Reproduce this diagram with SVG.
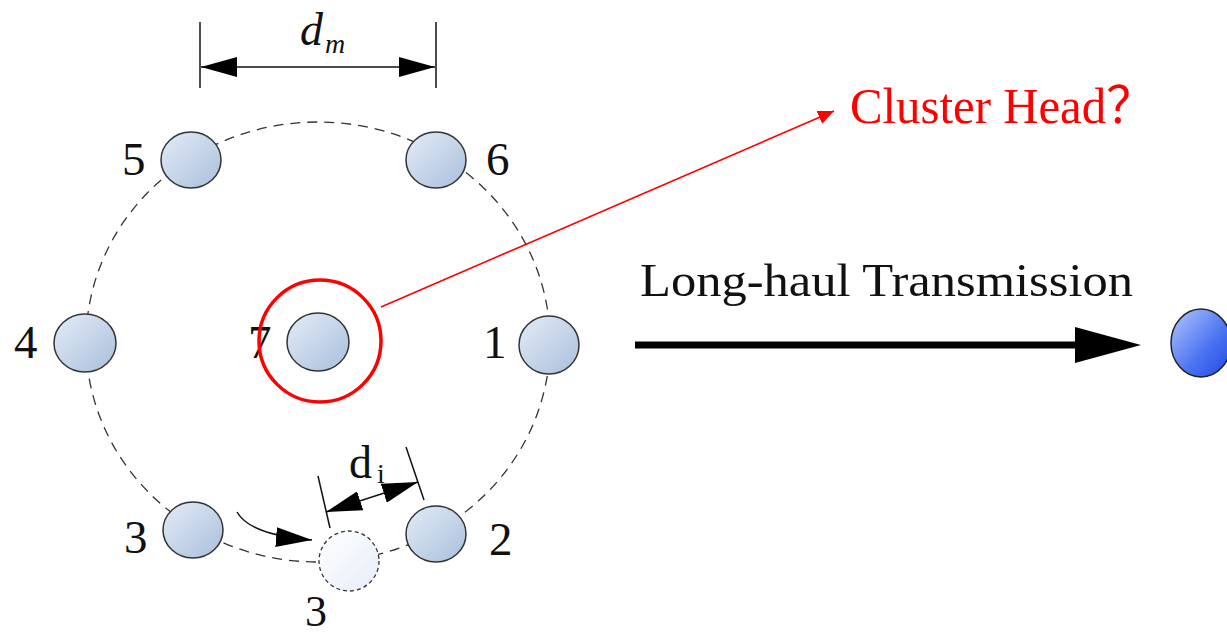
<svg xmlns="http://www.w3.org/2000/svg" width="1227" height="636" viewBox="0 0 1227 636">
<defs>
<linearGradient id="gNode" x1="0" y1="0" x2="1" y2="1">
<stop offset="0" stop-color="#e4ecf7"/>
<stop offset="1" stop-color="#a9bfdc"/>
</linearGradient>
<linearGradient id="gGhost" x1="0" y1="0" x2="1" y2="1">
<stop offset="0" stop-color="#ffffff"/>
<stop offset="1" stop-color="#e6edf8"/>
</linearGradient>
<linearGradient id="gBlue" x1="0" y1="0" x2="1" y2="1">
<stop offset="0" stop-color="#b4c8ff"/>
<stop offset="0.6" stop-color="#4a72f0"/>
<stop offset="1" stop-color="#1e46e6"/>
</linearGradient>
<marker id="abL" viewBox="0 0 10 10" refX="10" refY="5" markerWidth="36" markerHeight="20" markerUnits="userSpaceOnUse" orient="auto-start-reverse" preserveAspectRatio="none">
<path d="M0,0 L10,5 L0,10 z" fill="#000"/>
</marker>
<marker id="ar" viewBox="0 0 10 10" refX="10" refY="5" markerWidth="16" markerHeight="14" markerUnits="userSpaceOnUse" orient="auto" preserveAspectRatio="none">
<path d="M0,0 L10,5 L0,10 z" fill="#f00"/>
</marker>
</defs>
<style>
.node{fill:url(#gNode);stroke:#333;stroke-width:1.5}
.ghost{fill:url(#gGhost);stroke:#333;stroke-width:1.3;stroke-dasharray:4 3}
.lbl{font-family:"Liberation Serif",serif;font-size:47px;fill:#111}
.dash{fill:none;stroke:#333;stroke-width:1.3;stroke-dasharray:10 7}
.thin{fill:none;stroke:#111;stroke-width:1.5}
</style>
<g id="connectors">
<ellipse class="dash" cx="318" cy="342" rx="232" ry="220"/>
<path class="thin" d="M237,512 Q250,535 312,540" marker-end="url(#abL)"/>
<line class="thin" x1="200" y1="22" x2="200" y2="88"/>
<line class="thin" x1="436" y1="22" x2="436" y2="88"/>
<line class="thin" x1="201" y1="67" x2="435" y2="67" marker-start="url(#abL)" marker-end="url(#abL)"/>
<line class="thin" x1="318" y1="476" x2="330" y2="528"/>
<line class="thin" x1="406" y1="447" x2="424" y2="500"/>
<line class="thin" x1="326" y1="512" x2="418" y2="482" marker-start="url(#abL)" marker-end="url(#abL)"/>
<line x1="635" y1="345" x2="1080" y2="345" stroke="#000" stroke-width="7"/>
<path d="M1075,327 L1141,345 L1075,363 z" fill="#000"/>
<line x1="381" y1="307" x2="834" y2="111" stroke="#f00" stroke-width="1.6" marker-end="url(#ar)"/>
</g>
<g id="node5"><ellipse class="node" cx="191" cy="160" rx="30" ry="28"/><text class="lbl" x="122" y="175">5</text></g>
<g id="node6"><ellipse class="node" cx="436" cy="160" rx="30" ry="28"/><text class="lbl" x="486" y="175">6</text></g>
<g id="node4"><ellipse class="node" cx="85" cy="343" rx="31" ry="29"/><text class="lbl" x="14" y="358">4</text></g>
<g id="node7"><ellipse class="node" cx="318" cy="342" rx="31" ry="29"/><text class="lbl" x="248" y="358">7</text></g>
<g id="node1"><ellipse class="node" cx="549" cy="345" rx="30" ry="29"/><text class="lbl" x="483" y="358">1</text></g>
<g id="node3"><ellipse class="node" cx="193" cy="530" rx="30" ry="28"/><text class="lbl" x="124" y="553">3</text></g>
<g id="node2"><ellipse class="node" cx="436" cy="534" rx="30" ry="28"/><text class="lbl" x="489" y="555">2</text></g>
<g id="node3ghost"><ellipse class="ghost" cx="349" cy="561" rx="30" ry="30"/><text class="lbl" x="305" y="626" style="font-size:44px">3</text></g>
<g id="sink"><ellipse cx="1201" cy="343" rx="30" ry="34" fill="url(#gBlue)" stroke="#222" stroke-width="1.5"/></g>
<g id="clusterhead"><circle cx="320" cy="341" r="61" fill="none" stroke="#f00" stroke-width="3.5"/></g>
<g id="labels">
<text x="300" y="45" font-family="Liberation Serif,serif" font-size="46" font-style="italic" fill="#111">d<tspan font-size="28" dy="8" dx="2">m</tspan></text>
<text x="349" y="478" font-family="Liberation Serif,serif" font-size="46" fill="#111">d<tspan font-size="28" dy="5" dx="5">i</tspan></text>
<text x="640" y="296" font-family="Liberation Serif,serif" font-size="46" fill="#111" textLength="493" lengthAdjust="spacingAndGlyphs">Long-haul Transmission</text>
<text x="850" y="123" font-family="Liberation Serif,'Noto Sans CJK SC',serif" font-size="50" fill="#f00" textLength="305" lengthAdjust="spacingAndGlyphs">Cluster Head？</text>
</g>
</svg>
